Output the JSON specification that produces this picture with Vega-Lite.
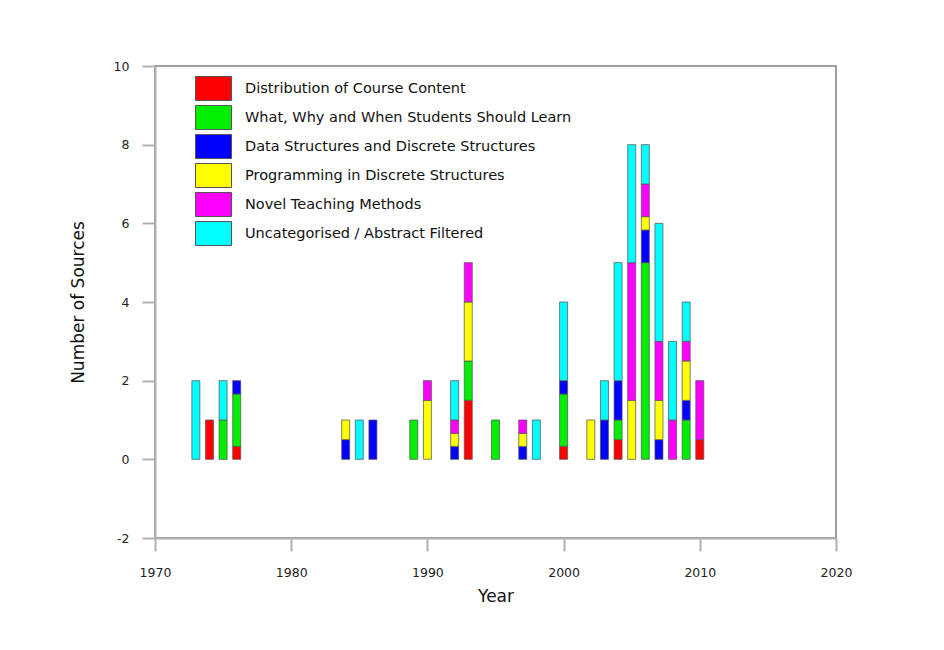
{
  "$schema": "https://vega.github.io/schema/vega-lite/v6.json",
  "autosize": "none",
  "width": 681,
  "height": 472,
  "padding": {"left": 155, "top": 66, "right": 108, "bottom": 112},
  "background": "white",
  "config": {
    "font": "DejaVu Sans",
    "view": {"stroke": "#808080", "strokeWidth": 1.5},
    "axis": {
      "grid": false,
      "domainColor": "#b0b0b0",
      "domainWidth": 2,
      "tickColor": "#b0b0b0",
      "tickWidth": 2,
      "tickSize": 13,
      "labelFont": "DejaVu Sans",
      "labelFontSize": 12.5,
      "labelColor": "#222",
      "titleFont": "DejaVu Sans",
      "titleFontSize": 17,
      "titleFontWeight": "normal",
      "titleColor": "#111"
    }
  },
  "data": {
    "values": [
      {"year": 1973, "cat": "Uncategorised / Abstract Filtered", "k": 6, "n": 2},
      {"year": 1974, "cat": "Distribution of Course Content", "k": 1, "n": 1},
      {"year": 1975, "cat": "What, Why and When Students Should Learn", "k": 2, "n": 1},
      {"year": 1975, "cat": "Uncategorised / Abstract Filtered", "k": 6, "n": 1},
      {"year": 1976, "cat": "Distribution of Course Content", "k": 1, "n": 0.33},
      {"year": 1976, "cat": "What, Why and When Students Should Learn", "k": 2, "n": 1.33},
      {"year": 1976, "cat": "Data Structures and Discrete Structures", "k": 3, "n": 0.34},
      {"year": 1984, "cat": "Data Structures and Discrete Structures", "k": 3, "n": 0.5},
      {"year": 1984, "cat": "Programming in Discrete Structures", "k": 4, "n": 0.5},
      {"year": 1985, "cat": "Uncategorised / Abstract Filtered", "k": 6, "n": 1},
      {"year": 1986, "cat": "Data Structures and Discrete Structures", "k": 3, "n": 1},
      {"year": 1989, "cat": "What, Why and When Students Should Learn", "k": 2, "n": 1},
      {"year": 1990, "cat": "Programming in Discrete Structures", "k": 4, "n": 1.5},
      {"year": 1990, "cat": "Novel Teaching Methods", "k": 5, "n": 0.5},
      {"year": 1992, "cat": "Data Structures and Discrete Structures", "k": 3, "n": 0.33},
      {"year": 1992, "cat": "Programming in Discrete Structures", "k": 4, "n": 0.33},
      {"year": 1992, "cat": "Novel Teaching Methods", "k": 5, "n": 0.34},
      {"year": 1992, "cat": "Uncategorised / Abstract Filtered", "k": 6, "n": 1},
      {"year": 1993, "cat": "Distribution of Course Content", "k": 1, "n": 1.5},
      {"year": 1993, "cat": "What, Why and When Students Should Learn", "k": 2, "n": 1},
      {"year": 1993, "cat": "Programming in Discrete Structures", "k": 4, "n": 1.5},
      {"year": 1993, "cat": "Novel Teaching Methods", "k": 5, "n": 1},
      {"year": 1995, "cat": "What, Why and When Students Should Learn", "k": 2, "n": 1},
      {"year": 1997, "cat": "Data Structures and Discrete Structures", "k": 3, "n": 0.33},
      {"year": 1997, "cat": "Programming in Discrete Structures", "k": 4, "n": 0.33},
      {"year": 1997, "cat": "Novel Teaching Methods", "k": 5, "n": 0.34},
      {"year": 1998, "cat": "Uncategorised / Abstract Filtered", "k": 6, "n": 1},
      {"year": 2000, "cat": "Distribution of Course Content", "k": 1, "n": 0.33},
      {"year": 2000, "cat": "What, Why and When Students Should Learn", "k": 2, "n": 1.33},
      {"year": 2000, "cat": "Data Structures and Discrete Structures", "k": 3, "n": 0.34},
      {"year": 2000, "cat": "Uncategorised / Abstract Filtered", "k": 6, "n": 2},
      {"year": 2002, "cat": "Programming in Discrete Structures", "k": 4, "n": 1},
      {"year": 2003, "cat": "Data Structures and Discrete Structures", "k": 3, "n": 1},
      {"year": 2003, "cat": "Uncategorised / Abstract Filtered", "k": 6, "n": 1},
      {"year": 2004, "cat": "Distribution of Course Content", "k": 1, "n": 0.5},
      {"year": 2004, "cat": "What, Why and When Students Should Learn", "k": 2, "n": 0.5},
      {"year": 2004, "cat": "Data Structures and Discrete Structures", "k": 3, "n": 1},
      {"year": 2004, "cat": "Uncategorised / Abstract Filtered", "k": 6, "n": 3},
      {"year": 2005, "cat": "Programming in Discrete Structures", "k": 4, "n": 1.5},
      {"year": 2005, "cat": "Novel Teaching Methods", "k": 5, "n": 3.5},
      {"year": 2005, "cat": "Uncategorised / Abstract Filtered", "k": 6, "n": 3},
      {"year": 2006, "cat": "What, Why and When Students Should Learn", "k": 2, "n": 5},
      {"year": 2006, "cat": "Data Structures and Discrete Structures", "k": 3, "n": 0.83},
      {"year": 2006, "cat": "Programming in Discrete Structures", "k": 4, "n": 0.34},
      {"year": 2006, "cat": "Novel Teaching Methods", "k": 5, "n": 0.83},
      {"year": 2006, "cat": "Uncategorised / Abstract Filtered", "k": 6, "n": 1},
      {"year": 2007, "cat": "Data Structures and Discrete Structures", "k": 3, "n": 0.5},
      {"year": 2007, "cat": "Programming in Discrete Structures", "k": 4, "n": 1},
      {"year": 2007, "cat": "Novel Teaching Methods", "k": 5, "n": 1.5},
      {"year": 2007, "cat": "Uncategorised / Abstract Filtered", "k": 6, "n": 3},
      {"year": 2008, "cat": "Novel Teaching Methods", "k": 5, "n": 1},
      {"year": 2008, "cat": "Uncategorised / Abstract Filtered", "k": 6, "n": 2},
      {"year": 2009, "cat": "What, Why and When Students Should Learn", "k": 2, "n": 1},
      {"year": 2009, "cat": "Data Structures and Discrete Structures", "k": 3, "n": 0.5},
      {"year": 2009, "cat": "Programming in Discrete Structures", "k": 4, "n": 1},
      {"year": 2009, "cat": "Novel Teaching Methods", "k": 5, "n": 0.5},
      {"year": 2009, "cat": "Uncategorised / Abstract Filtered", "k": 6, "n": 1},
      {"year": 2010, "cat": "Distribution of Course Content", "k": 1, "n": 0.5},
      {"year": 2010, "cat": "Novel Teaching Methods", "k": 5, "n": 1.5}
    ]
  },
  "mark": {"type": "bar", "size": 8, "stroke": "#555", "strokeWidth": 1, "strokeOpacity": 0.75},
  "encoding": {
    "x": {
      "field": "year",
      "type": "quantitative",
      "scale": {"domain": [1970, 2020], "nice": false, "zero": false, "padding": 0},
      "axis": {"values": [1970, 1980, 1990, 2000, 2010, 2020], "format": "d", "title": "Year", "labelFlush": false, "labelOverlap": false, "labelPadding": 15, "titlePadding": 10}
    },
    "y": {
      "field": "n",
      "type": "quantitative",
      "aggregate": "sum",
      "stack": "zero",
      "scale": {"domain": [-2, 10], "nice": false, "padding": 0},
      "axis": {"values": [-2, 0, 2, 4, 6, 8, 10], "labelExpr": "'' + datum.value", "labelFlush": false, "title": "Number of Sources", "labelPadding": 13, "titlePadding": 26}
    },
    "order": {"field": "k", "type": "quantitative", "sort": "ascending"},
    "color": {
      "field": "cat",
      "type": "nominal",
      "scale": {
        "domain": [
          "Distribution of Course Content",
          "What, Why and When Students Should Learn",
          "Data Structures and Discrete Structures",
          "Programming in Discrete Structures",
          "Novel Teaching Methods",
          "Uncategorised / Abstract Filtered"
        ],
        "range": ["#ff0000", "#00ee00", "#0000ff", "#ffff00", "#ff00ff", "#00ffff"]
      },
      "legend": {
        "title": null,
        "orient": "none",
        "legendX": 46,
        "legendY": 10,
        "padding": 0,
        "symbolType": "M-1.5,-1H1.5V1H-1.5Z",
        "symbolSize": 576,
        "symbolStrokeColor": "#555",
        "symbolStrokeWidth": 1,
        "symbolOpacity": 1,
        "rowPadding": 0,
        "labelOffset": 19,
        "labelFont": "DejaVu Sans",
        "labelFontSize": 14.5,
        "labelColor": "#111",
        "labelLimit": 400
      }
    }
  }
}
